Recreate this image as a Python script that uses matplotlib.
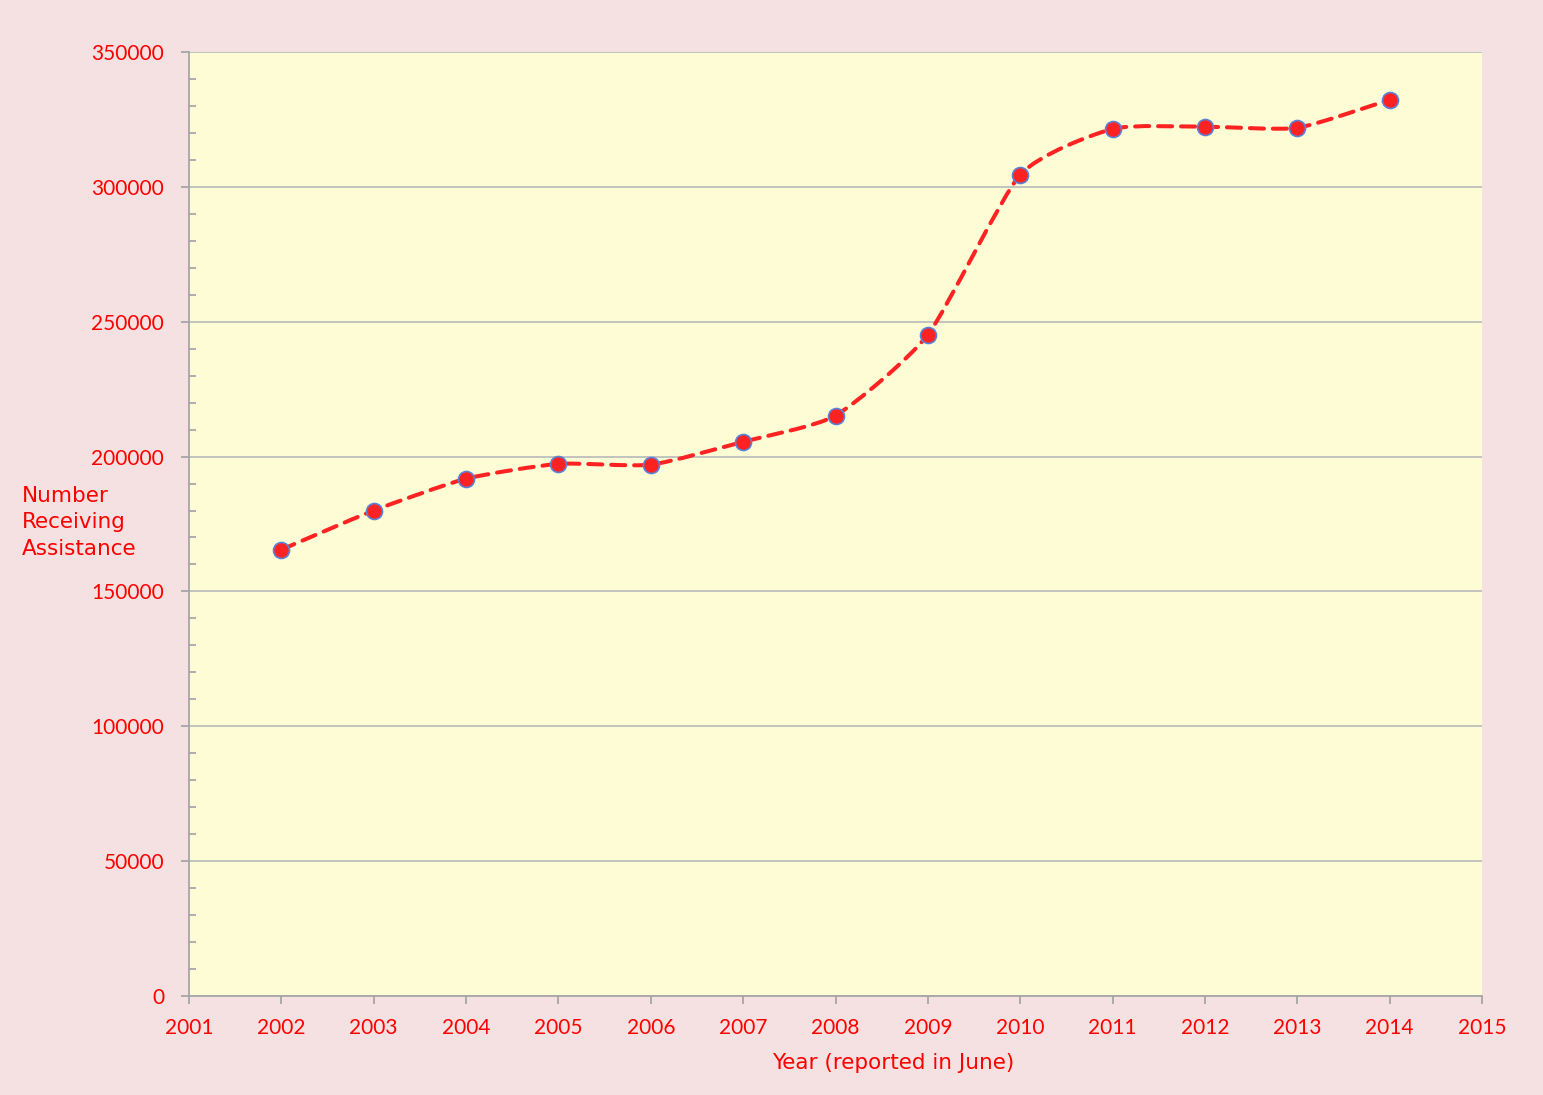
import matplotlib
matplotlib.use('Agg')
import matplotlib.pyplot as plt
import numpy as np
from matplotlib.path import Path
from matplotlib.patches import PathPatch
from matplotlib.ticker import MultipleLocator

# values
years = [2002, 2003, 2004, 2005, 2006, 2007, 2008, 2009, 2010, 2011, 2012, 2013, 2014]
assisted = [165500, 180000, 191800, 197300, 197000, 205500, 215200, 245200,
            304500, 321500, 322300, 321900, 332300]
x_ticks = list(range(2001, 2016))

red = '#FF0000'
line_red = '#FF2222'

fig = plt.figure(figsize=(15.43, 10.95), dpi=100, facecolor='#F5E1E2')
ax = fig.add_axes([0.1225, 0.0904, 0.838, 0.8621])
ax.set_facecolor('#FEFCD4')


def smooth_path(xs, ys, k=10.0):
    # cardinal spline through the points, drawn as cubic bezier segments
    pts = np.column_stack([xs, ys]).astype(float)
    verts = [pts[0]]
    codes = [Path.MOVETO]
    n = len(pts)
    for i in range(n - 1):
        p0 = pts[i - 1] if i > 0 else pts[i]
        p1 = pts[i]
        p2 = pts[i + 1]
        p3 = pts[i + 2] if i + 2 < n else pts[i + 1]
        c1 = p1 + (p2 - p0) / k
        c2 = p2 - (p3 - p1) / k
        verts += [c1, c2, p2]
        codes += [Path.CURVE4] * 3
    return Path(verts, codes)


patch = PathPatch(smooth_path(years, assisted), facecolor='none', edgecolor=line_red,
                  linewidth=2.9, linestyle=(0, (3.5, 2.2)), capstyle='round', zorder=3)
ax.add_patch(patch)
ax.plot(years, assisted, 'o', markersize=11.5, markerfacecolor=line_red,
        markeredgecolor='#5A82D8', markeredgewidth=1.2, zorder=4)

ax.set_xlim(2001, 2015)
ax.set_ylim(0, 350000)
ax.set_xticks(x_ticks)
ax.yaxis.set_major_locator(MultipleLocator(50000))
ax.yaxis.set_minor_locator(MultipleLocator(10000))
ax.grid(axis='y', which='major', color='#BDBDBD', linewidth=1.3)
ax.set_axisbelow(True)

for s in ['top', 'right']:
    ax.spines[s].set_visible(False)
for s in ['left', 'bottom']:
    ax.spines[s].set_color('#A6A6A6')
    ax.spines[s].set_linewidth(1.3)

ax.tick_params(axis='both', which='major', colors='#A6A6A6', labelcolor=red,
               labelsize=15, length=6, width=1.3, direction='out')
ax.tick_params(axis='y', which='minor', colors='#A6A6A6', length=5, width=1.3,
               direction='in')
ax.tick_params(axis='x', pad=10)
ax.tick_params(axis='y', pad=12)
for lab in ax.get_xticklabels() + ax.get_yticklabels():
    lab.set_family('Lato')

fig.text(0.5787, 0.0292, 'Year (reported in June)', color=red, fontsize=15.5,
         ha='center', va='center')
fig.text(0.014, 0.523, 'Number\nReceiving\nAssistance', color=red, fontsize=15.5,
         ha='left', va='center', linespacing=1.42)

fig.savefig('out.png', dpi=100, facecolor=fig.get_facecolor())
